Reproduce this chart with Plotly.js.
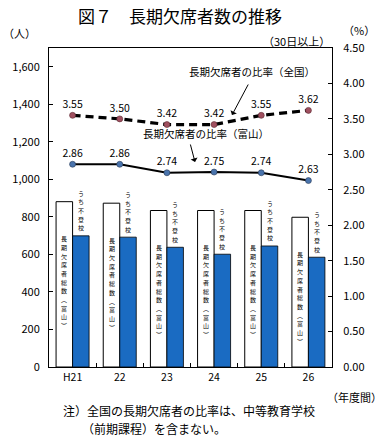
<!DOCTYPE html>
<html>
<head>
<meta charset="utf-8">
<script src="https://cdn.plot.ly/plotly-3.0.1.min.js"></script>
<style>html,body{margin:0;padding:0;background:#fff;}#chart{width:391px;height:446px;}</style>
</head>
<body>
<div id="chart"></div>
<script>
// ---- data ----
var categories = ["H21", "22", "23", "24", "25", "26"];
var totalToyama = [881, 873, 834, 834, 834, 798];      // 長期欠席者総数（富山）
var futokoToyama = [699, 692, 638, 601, 645, 585];     // うち不登校
var rateNational = [3.55, 3.50, 3.42, 3.42, 3.55, 3.62];
var rateToyama = [2.86, 2.86, 2.74, 2.75, 2.74, 2.63];
var leftTicks = [0, 200, 400, 600, 800, 1000, 1200, 1400, 1600];
var rightTicks = [0, 0.5, 1, 1.5, 2, 2.5, 3, 3.5, 4, 4.5];
var totalLabel = "長期欠席者総数︵富山︶";
var futokoLabel = "うち不登校";

// ---- layout helpers ----
var W = 391, H = 446;
var L = 49, R = 332, T = 48, B = 367;
function px(x) { return (x - L) / (R - L); }
function py(y) { return (B - y) / (B - T); }
var FONT = "Noto Sans CJK JP, sans-serif";

var traces = [
  {
    type: "bar", x: categories, y: totalToyama, name: "total",
    marker: {color: "#ffffff", line: {color: "#000000", width: 1}},
    hoverinfo: "skip"
  },
  {
    type: "bar", x: categories, y: futokoToyama, name: "futoko",
    marker: {color: "#1a6bc2", line: {color: "#000000", width: 0.8}},
    hoverinfo: "skip"
  },
  {
    type: "scatter", mode: "lines+markers+text", x: categories, y: rateNational, yaxis: "y2",
    line: {color: "#000000", width: 3.2, dash: "8px,5px"},
    marker: {color: "#a05060", size: 6, line: {color: "#5a2a30", width: 0.6}},
    text: rateNational.map(function (v) { return v.toFixed(2); }),
    textposition: "top center",
    textfont: {family: FONT, size: 10.5, color: "#000"},
    hoverinfo: "skip"
  },
  {
    type: "scatter", mode: "lines+markers+text", x: categories, y: rateToyama, yaxis: "y2",
    line: {color: "#000000", width: 2},
    marker: {color: "#4a74ad", size: 6, line: {color: "#2a3a55", width: 0.6}},
    text: rateToyama.map(function (v) { return v.toFixed(2); }),
    textposition: "top center",
    textfont: {family: FONT, size: 10.5, color: "#000"},
    hoverinfo: "skip"
  }
];

var annotations = [];
// vertical bar labels, one character per annotation
var VS = 6, pitch = 8.7;
categories.forEach(function (c, i) {
  Array.from(totalLabel).forEach(function (ch, k) {
    annotations.push({
      xref: "x", yref: "y", x: i - 0.175, y: totalToyama[i],
      yanchor: "middle", xanchor: "center", showarrow: false,
      yshift: -37 - k * pitch, borderpad: 0, borderwidth: 0,
      text: ch, font: {family: FONT, size: VS, color: "#000"}
    });
  });
  var chars2 = Array.from(futokoLabel);
  chars2.forEach(function (ch, k) {
    annotations.push({
      xref: "x", yref: "y", x: i + 0.175, y: futokoToyama[i],
      yanchor: "middle", xanchor: "center", showarrow: false,
      yshift: 8 + (chars2.length - 1 - k) * pitch, borderpad: 0, borderwidth: 0,
      text: ch, font: {family: FONT, size: VS, color: "#000"}
    });
  });
});

function label(x, y, text, size, xanchor) {
  annotations.push({xref: "paper", yref: "paper", x: px(x), y: py(y),
    xanchor: xanchor || "center", yanchor: "middle", showarrow: false,
    borderpad: 0, borderwidth: 0,
    text: text, font: {family: FONT, size: size, color: "#000"}});
}
// series callouts
label(252, 72, "長期欠席者の比率（全国）", 10.5);
annotations.push({
  xref: "paper", yref: "paper", x: px(232), y: py(115), ax: 17, ay: -32,
  showarrow: true, arrowhead: 1, arrowsize: 1.2, arrowwidth: 1, arrowcolor: "#000", text: ""
});
label(206, 133, "長期欠席者の比率（富山）", 10.5);
annotations.push({
  xref: "paper", yref: "paper", x: px(195), y: py(162), ax: -5, ay: -19,
  showarrow: true, arrowhead: 1, arrowsize: 1.2, arrowwidth: 1, arrowcolor: "#000", text: ""
});
// unit labels & notes
label(19, 33, "（人）", 11);
label(359, 30, "（%）", 11);
label(296, 41, "（30日以上）", 11);
label(354, 397, "（年度間）", 11);
label(63, 410, "注）全国の長期欠席者の比率は、中等教育学校", 12, "left");
label(82, 428, "（前期課程）を含まない。", 12, "left");

var layout = {
  width: W, height: H,
  margin: {l: L, r: W - R, t: T, b: H - B, pad: 0},
  paper_bgcolor: "#ffffff", plot_bgcolor: "#ffffff",
  showlegend: false,
  barmode: "group", bargap: 0.3, bargroupgap: 0,
  title: {text: "図７　長期欠席者数の推移", x: 180 / W, xref: "container", xanchor: "center",
    y: 1 - 17 / H, yref: "container", yanchor: "middle",
    font: {family: FONT, size: 17, color: "#000"}},
  font: {family: FONT, size: 11, color: "#000"},
  xaxis: {
    type: "category", showline: true, linecolor: "#000", linewidth: 1, mirror: true,
    ticks: "inside", tickson: "boundaries", ticklen: 4, tickcolor: "#000",
    showgrid: false, zeroline: false,
    tickfont: {family: FONT, size: 10.5, color: "#000"}
  },
  yaxis: {
    range: [0, 1700], tickvals: leftTicks, tickformat: ",",
    showline: true, linecolor: "#000", linewidth: 1,
    ticks: "inside", ticklen: 4, tickcolor: "#000",
    showgrid: false, zeroline: false, ticklabelstandoff: 6,
    tickfont: {family: FONT, size: 11, color: "#000"}
  },
  yaxis2: {
    overlaying: "y", side: "right", range: [0, 4.5], tickvals: rightTicks, tickformat: ".2f",
    showline: true, linecolor: "#000", linewidth: 1,
    ticks: "inside", ticklen: 4, tickcolor: "#000",
    showgrid: false, zeroline: false, ticklabelstandoff: 8,
    tickfont: {family: FONT, size: 11, color: "#000"}
  },
  annotations: annotations
};

Plotly.newPlot("chart", traces, layout, {displayModeBar: false, staticPlot: true});
</script>
</body>
</html>
